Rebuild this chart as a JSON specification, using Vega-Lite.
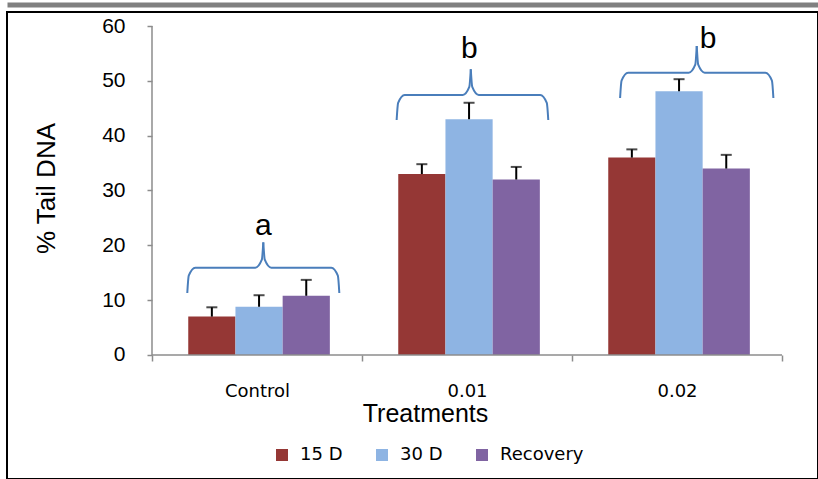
{
  "$schema": "https://vega.github.io/schema/vega-lite/v6.json",
  "width": 811,
  "height": 467,
  "autosize": {"type": "none"},
  "padding": {"left": 7, "top": 12, "right": 0, "bottom": 0},
  "background": "white",
  "config": {
    "view": {"stroke": "#000000", "strokeWidth": 2},
    "axis": {"grid": false}
  },
  "layer": [
    {
      "data": {
        "values": [
          {"Treatment": "Control", "Series": "15 D", "Mean": 7, "Upper": 8.7},
          {"Treatment": "Control", "Series": "30 D", "Mean": 8.8, "Upper": 10.9},
          {"Treatment": "Control", "Series": "Recovery", "Mean": 10.8, "Upper": 13.7},
          {"Treatment": "0.01", "Series": "15 D", "Mean": 33, "Upper": 34.8},
          {"Treatment": "0.01", "Series": "30 D", "Mean": 43, "Upper": 46},
          {"Treatment": "0.01", "Series": "Recovery", "Mean": 32, "Upper": 34.3},
          {"Treatment": "0.02", "Series": "15 D", "Mean": 36, "Upper": 37.5},
          {"Treatment": "0.02", "Series": "30 D", "Mean": 48.1, "Upper": 50.3},
          {"Treatment": "0.02", "Series": "Recovery", "Mean": 34, "Upper": 36.5}
        ]
      },
      "encoding": {
        "x": {
          "field": "Treatment",
          "type": "nominal",
          "sort": ["Control", "0.01", "0.02"],
          "scale": {"paddingInner": 0, "paddingOuter": 0.430952, "align": 0.801105},
          "axis": {
            "orient": "bottom",
            "offset": -124,
            "domain": false,
            "tickBand": "extent",
            "tickSize": 6,
            "tickColor": "#8c8c8c",
            "tickWidth": 1.5,
            "labelAngle": 0,
            "labelFont": "DejaVu Sans",
            "labelFontSize": 18,
            "labelColor": "#000000",
            "labelBaseline": "alphabetic",
            "labelPadding": 35,
            "title": "Treatments",
            "titleFont": "Liberation Sans",
            "titleFontSize": 25,
            "titleFontWeight": "normal",
            "titleColor": "#000000",
            "titleX": 418,
            "titleY": 66,
            "titleAlign": "center",
            "titleBaseline": "alphabetic"
          }
        },
        "xOffset": {
          "field": "Series",
          "type": "nominal",
          "sort": ["15 D", "30 D", "Recovery"],
          "scale": {"paddingInner": 0, "paddingOuter": 0.7246, "align": 0.53}
        },
        "y": {
          "field": "Mean",
          "type": "quantitative",
          "scale": {"domain": [-22.614, 62.5532], "nice": false, "zero": false},
          "axis": {
            "orient": "left",
            "offset": -145,
            "values": [0, 10, 20, 30, 40, 50, 60],
            "domain": false,
            "tickSize": 5,
            "tickColor": "#8c8c8c",
            "tickWidth": 1.5,
            "labelFont": "Liberation Sans",
            "labelFontSize": 21,
            "labelColor": "#000000",
            "labelPadding": 22,
            "title": "% Tail DNA",
            "titleFont": "Liberation Sans",
            "titleFontSize": 26,
            "titleFontWeight": "normal",
            "titleColor": "#000000",
            "titleAngle": -90,
            "titleX": -106,
            "titleY": 176,
            "titleAlign": "center",
            "titleBaseline": "middle"
          }
        }
      },
      "layer": [
        {
          "mark": {"type": "bar"},
          "encoding": {
            "y2": {"datum": 0},
            "color": {
              "field": "Series",
              "type": "nominal",
              "scale": {"domain": ["15 D", "30 D", "Recovery"], "range": ["#953735", "#8eb4e3", "#8064a2"]},
              "legend": {
                "title": null,
                "orient": "none",
                "legendX": 266,
                "legendY": 434,
                "direction": "horizontal",
                "columns": 3,
                "symbolType": "square",
                "symbolSize": 144,
                "symbolStrokeWidth": 0,
                "labelFont": "DejaVu Sans",
                "labelFontSize": 18,
                "labelColor": "#000000",
                "labelOffset": 9,
                "columnPadding": 30,
                "padding": 0,
                "labelLimit": 300
              }
            }
          }
        },
        {
          "mark": {"type": "rule", "color": "#000000", "strokeWidth": 2},
          "encoding": {
            "y2": {"field": "Upper"}
          }
        },
        {
          "mark": {"type": "tick", "color": "#000000", "orient": "horizontal", "size": 11, "thickness": 2},
          "encoding": {
            "y": {"field": "Upper", "type": "quantitative"}
          }
        }
      ]
    },
    {
      "layer": [
        {
          "data": {
            "values": [
              {"part": "aL", "i": 1, "bx": 0.168, "by": 11.31},
              {"part": "aL", "i": 2, "bx": 0.175, "by": 14.46},
              {"part": "aL", "i": 3, "bx": 0.206, "by": 15.92},
              {"part": "aL", "i": 4, "bx": 0.492, "by": 15.92},
              {"part": "aL", "i": 5, "bx": 0.523, "by": 17.38},
              {"part": "aL", "i": 6, "bx": 0.530, "by": 20.55},
              {"part": "aR", "i": 1, "bx": 0.530, "by": 20.55},
              {"part": "aR", "i": 2, "bx": 0.537, "by": 17.38},
              {"part": "aR", "i": 3, "bx": 0.568, "by": 15.92},
              {"part": "aR", "i": 4, "bx": 0.854, "by": 15.92},
              {"part": "aR", "i": 5, "bx": 0.885, "by": 14.46},
              {"part": "aR", "i": 6, "bx": 0.892, "by": 11.31},
              {"part": "bL", "i": 1, "bx": 1.165, "by": 42.86},
              {"part": "bL", "i": 2, "bx": 1.172, "by": 45.96},
              {"part": "bL", "i": 3, "bx": 1.203, "by": 47.42},
              {"part": "bL", "i": 4, "bx": 1.480, "by": 47.42},
              {"part": "bL", "i": 5, "bx": 1.511, "by": 48.88},
              {"part": "bL", "i": 6, "bx": 1.518, "by": 52.11},
              {"part": "bR", "i": 1, "bx": 1.518, "by": 52.11},
              {"part": "bR", "i": 2, "bx": 1.525, "by": 48.88},
              {"part": "bR", "i": 3, "bx": 1.556, "by": 47.42},
              {"part": "bR", "i": 4, "bx": 1.849, "by": 47.42},
              {"part": "bR", "i": 5, "bx": 1.880, "by": 45.96},
              {"part": "bR", "i": 6, "bx": 1.887, "by": 42.86},
              {"part": "cL", "i": 1, "bx": 2.229, "by": 46.87},
              {"part": "cL", "i": 2, "bx": 2.236, "by": 50.03},
              {"part": "cL", "i": 3, "bx": 2.267, "by": 51.49},
              {"part": "cL", "i": 4, "bx": 2.556, "by": 51.49},
              {"part": "cL", "i": 5, "bx": 2.587, "by": 52.95},
              {"part": "cL", "i": 6, "bx": 2.594, "by": 56.36},
              {"part": "cR", "i": 1, "bx": 2.594, "by": 56.36},
              {"part": "cR", "i": 2, "bx": 2.601, "by": 52.95},
              {"part": "cR", "i": 3, "bx": 2.632, "by": 51.49},
              {"part": "cR", "i": 4, "bx": 2.921, "by": 51.49},
              {"part": "cR", "i": 5, "bx": 2.952, "by": 50.03},
              {"part": "cR", "i": 6, "bx": 2.959, "by": 46.87}
            ]
          },
          "mark": {"type": "line", "interpolate": "monotone", "stroke": "#4a7ebb", "strokeWidth": 2},
          "encoding": {
            "x": {
              "field": "bx",
              "type": "quantitative",
              "scale": {"domain": [-0.690476, 3.171429], "nice": false, "zero": false},
              "axis": {
                "orient": "top",
                "offset": 7.5,
                "domain": true,
                "domainColor": "#808080",
                "domainWidth": 5,
                "domainCap": "butt",
                "ticks": false,
                "labels": false,
                "title": null,
                "grid": false
              }
            },
            "y": {"field": "by", "type": "quantitative"},
            "detail": {"field": "part"},
            "order": {"field": "i"}
          }
        },
        {
          "data": {
            "values": [
              {"letter": "a", "lx": 0.530, "ly": 21.89},
              {"letter": "b", "lx": 1.511, "ly": 54.11},
              {"letter": "b", "lx": 2.648, "ly": 55.99}
            ]
          },
          "mark": {"type": "text", "font": "Liberation Sans", "fontSize": 30, "color": "#000000", "align": "center", "baseline": "alphabetic"},
          "encoding": {
            "x": {"field": "lx", "type": "quantitative"},
            "y": {"field": "ly", "type": "quantitative"},
            "text": {"field": "letter"}
          }
        },
        {
          "data": {"values": [{}]},
          "mark": {"type": "rule", "color": "#8c8c8c", "strokeWidth": 1.5},
          "encoding": {
            "x": {"datum": 0, "type": "quantitative"},
            "y": {"datum": 0, "type": "quantitative"},
            "y2": {"datum": 60}
          }
        },
        {
          "data": {"values": [{}]},
          "mark": {"type": "rule", "color": "#8c8c8c", "strokeWidth": 1.5},
          "encoding": {
            "x": {"datum": 0, "type": "quantitative"},
            "x2": {"datum": 3},
            "y": {"datum": 0, "type": "quantitative"}
          }
        }
      ]
    }
  ],
  "resolve": {"scale": {"x": "independent"}}
}
